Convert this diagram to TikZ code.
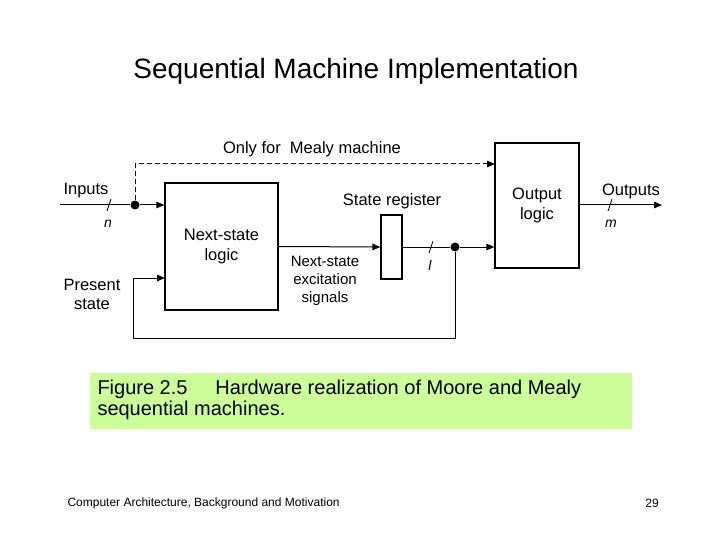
\documentclass[tikz,border=0pt]{standalone}
\usepackage{fontspec}
\setmainfont{Liberation Sans}
\usepackage{xcolor}
\usetikzlibrary{positioning,arrows.meta}
\definecolor{capgreen}{HTML}{CCFF99}

\begin{document}
\begin{tikzpicture}[x=1pt,y=-1pt,line width=1pt,
  lbl/.style={font=\fontsize{16.5}{19}\selectfont,align=center,inner sep=0pt},
  blk/.style={draw,line width=1.2pt,fill=white,font=\fontsize{16.5}{20}\selectfont,align=center},
  dot/.style={circle,fill=black,inner sep=0pt,minimum size=9pt},
  arr/.style={-{Triangle[length=8pt,width=6.5pt]}}]
\useasboundingbox (0,0) rectangle (720,540);
\node[font=\fontsize{28}{32}\selectfont] (title) at (356,71) {Sequential Machine Implementation};
% blocks
\node[blk,minimum width=113pt,minimum height=127pt] (nsl) at (221.5,246.5) {Next-state\\ logic};
\node[blk,minimum width=84pt,minimum height=125pt] (olog) at (537,205.5) {Output\\ logic};
\node[draw,line width=1.2pt,minimum width=21pt,minimum height=64pt,inner sep=0pt] (sreg) at (391.5,247) {};
\node[dot] (dotIn) at (135,205) {};
\node[dot] (dotQ) at (455,247) {};
\coordinate (inL) at (60,205);
\coordinate (mealy) at (495,164);
\coordinate (fbl) at (133,338);
\coordinate (psIn) at (165,278);
\coordinate (outR) at (662,205);
% labels
\node[lbl] (inputs) at (86,191) {Inputs};
\node[lbl] (pstate) at (92,294) {Present\\ state};
\node[lbl,font=\fontsize{15}{18}\selectfont] (exc) at (325,281) {Next-state\\ excitation\\ signals};
\node[lbl] (sregl) at (392,201) {State register};
\node[lbl] (onlym) at (312,149) {Only for\ \ Mealy machine};
\node[lbl] (outputs) at (631,191) {Outputs};
\node[lbl,font=\fontsize{14}{16}\selectfont\itshape] (nw) at (108,224) {n};
\node[lbl,font=\fontsize{14}{16}\selectfont\itshape] (lw) at (430,265) {l};
\node[lbl,font=\fontsize{14}{16}\selectfont\itshape] (mw) at (611,224) {m};
% connectors
\draw (inL) -- (dotIn);
\draw[arr] (dotIn) -- (nsl.west |- dotIn);
\draw[arr,dashed,dash pattern=on 5pt off 3pt] (dotIn) |- (mealy);
\draw[arr] (nsl.east) -- (sreg.west);
\draw (sreg.east) -- (dotQ);
\draw[arr] (dotQ) -- (olog.west |- dotQ);
\draw[arr] (dotQ) |- (fbl) |- (psIn);
\draw[arr] (olog.east |- outR) -- (outR);
\foreach \sx/\sy in {109/205,431/247,610/205} \draw[line width=0.8pt] (\sx-2,\sy+6) -- (\sx+2,\sy-6);
% caption
\node[fill=capgreen,minimum width=542pt,minimum height=56pt,anchor=north west,inner sep=0pt] (capbox) at (89,372) {};
\node[anchor=west,align=left,inner sep=0pt,font=\fontsize{20}{21}\selectfont] (cap) at (97,400) {\makebox[118pt][l]{Figure 2.5}Hardware realization of Moore and Mealy\\ sequential machines.};
% footer
\node[anchor=west,inner sep=0pt,font=\fontsize{12}{14}\selectfont] (foot) at (67,503) {Computer Architecture, Background and Motivation};
\node[inner sep=0pt,font=\fontsize{12}{14}\selectfont] (pg) at (652,503) {29};
\end{tikzpicture}
\end{document}
